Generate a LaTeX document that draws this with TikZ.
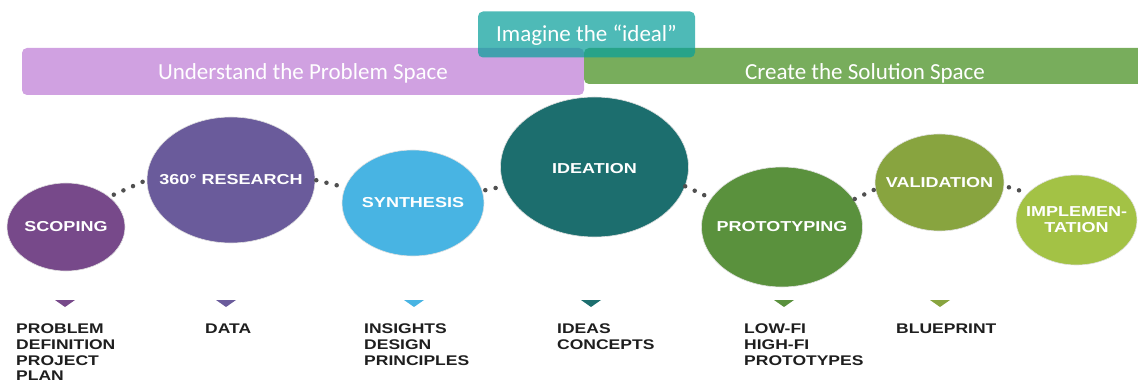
\documentclass[tikz,border=0pt]{standalone}
\usepackage{fontspec}
\setmainfont{Carlito}
\newfontfamily\stagefont{Liberation Sans}[FakeStretch=1.25]
\usetikzlibrary{shapes.geometric}

\definecolor{probpurple}{HTML}{D0A1E1}
\definecolor{solgreen}{HTML}{78AD5C}
\definecolor{idealteal}{RGB}{10,160,155}
\definecolor{scopingc}{HTML}{77498A}
\definecolor{researchc}{HTML}{6A5B9B}
\definecolor{synthesisc}{HTML}{48B4E3}
\definecolor{ideationc}{HTML}{1C6E6E}
\definecolor{prototypingc}{HTML}{5A913D}
\definecolor{validationc}{HTML}{88A43F}
\definecolor{implementationc}{HTML}{A3C245}
\definecolor{dotgray}{HTML}{505050}
\definecolor{labelblack}{HTML}{1E1E1E}

\begin{document}
\begin{tikzpicture}[x=1pt,y=-1pt,
    bar/.style={rounded corners=5pt,inner sep=0pt,text=white,text depth=0pt,font=\fontsize{23}{27}\selectfont},
    stage/.style={ellipse,inner sep=0pt,draw=black!12,line width=.6pt},
    stagetext/.style={inner sep=0pt,text=white,align=center,font=\stagefont\bfseries\fontsize{14.4}{16}\selectfont},
    outcome/.style={anchor=north west,inner sep=0pt,align=left,text=labelblack,font=\stagefont\bfseries\fontsize{14}{15.6}\selectfont},
    dotline/.style={draw=dotgray,line width=4.5pt,line cap=round,dash pattern=on 0pt off 10.5pt}]
      \useasboundingbox (0,0) rectangle (1138,382);
      % banners
      \node[bar,fill=probpurple,minimum width=562pt,minimum height=47pt,text height=17pt] (problem) at (303,71.5) {Understand the Problem Space};
      \node[bar,fill=solgreen,minimum width=562pt,minimum height=36pt,text height=28pt] (solution) at (865,66) {Create the Solution Space};
      \node[bar,fill=idealteal,fill opacity=.72,text opacity=1,minimum width=217pt,minimum height=46pt,text height=15pt] (ideal) at (586.5,34.5) {Imagine the ``ideal''};
      % stages
      \node[stage,fill=scopingc,minimum width=118pt,minimum height=88pt,label={[stagetext]center:SCOPING}] (scoping) at (66,227) {};
      \node[stage,fill=researchc,minimum width=168pt,minimum height=126pt,label={[stagetext]center:360° RESEARCH}] (research) at (231,180) {};
      \node[stage,fill=synthesisc,minimum width=142pt,minimum height=106pt,label={[stagetext]center:SYNTHESIS}] (synthesis) at (413,203) {};
      \node[stage,fill=ideationc,minimum width=188pt,minimum height=140pt,label={[stagetext,yshift=-1.5pt]center:IDEATION}] (ideation) at (594.5,167) {};
      \node[stage,fill=prototypingc,minimum width=161pt,minimum height=120pt,label={[stagetext]center:PROTOTYPING}] (prototyping) at (782,227) {};
      \node[stage,fill=validationc,minimum width=129pt,minimum height=97pt,label={[stagetext]center:VALIDATION}] (validation) at (939.5,182.5) {};
      \node[stage,fill=implementationc,minimum width=121pt,minimum height=90pt,label={[stagetext]center:{IMPLEMEN-\\TATION}}] (implementation) at (1076.5,220) {};
      % dotted links
      \draw[dotline,shorten <=5pt] (scoping.35) -- (research.180);
      \draw[dotline,shorten <=1pt] (research.0) -- (synthesis.167);
      \draw[dotline,shorten <=3pt] (synthesis.10) -- (ideation.192);
      \draw[dotline] (ideation.-12) -- (prototyping.158);
      \draw[dotline,shorten <=1pt] (prototyping.21) -- (validation.186);
      \draw[dotline,shorten <=5pt] (validation.-3) -- (implementation.151);
      % markers
      \foreach \x/\c in {65/scopingc,226/researchc,414/synthesisc,591/ideationc,784/prototypingc,940/validationc}
        \fill[\c] (\x-10,300) -- (\x+10,300) -- (\x,307) -- cycle;
      % outcomes
      \node[outcome] (definition) at (16,324) {PROBLEM\\DEFINITION\\PROJECT\\PLAN};
      \node[outcome] (data) at (205,324) {DATA};
      \node[outcome] (insights) at (364,324) {INSIGHTS\\DESIGN\\PRINCIPLES};
      \node[outcome] (ideas) at (557,324) {IDEAS\\CONCEPTS};
      \node[outcome] (prototypes) at (744,324) {LOW-FI\\HIGH-FI\\PROTOTYPES};
      \node[outcome] (blueprint) at (896,324) {BLUEPRINT};
    \end{tikzpicture}
\end{document}
